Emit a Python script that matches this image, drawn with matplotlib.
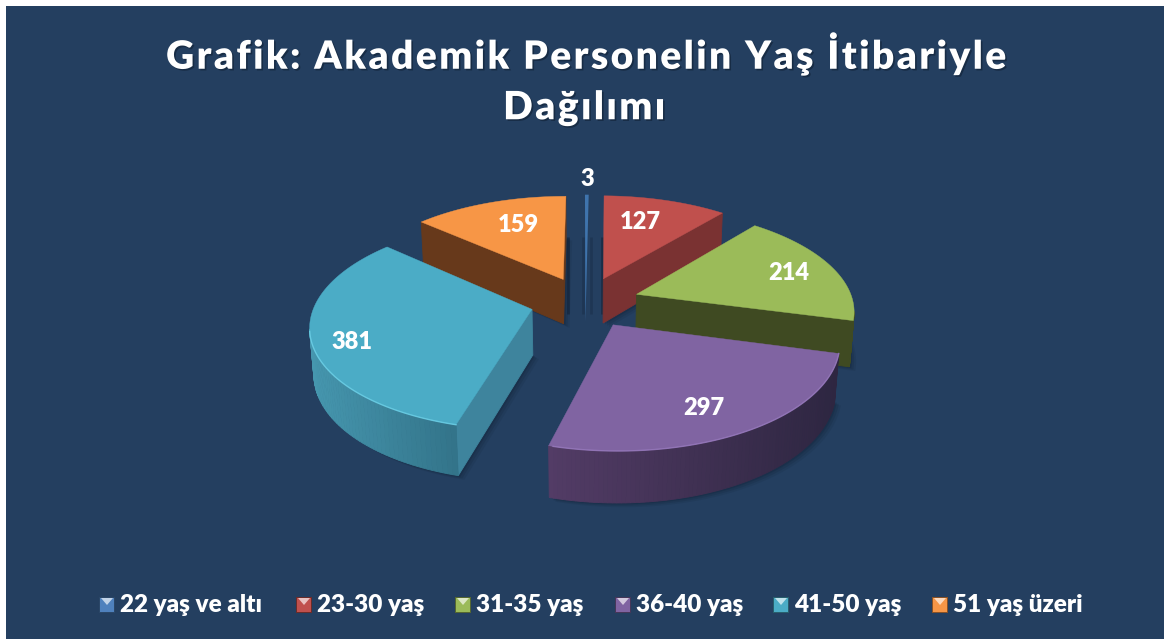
import numpy as np
import matplotlib
matplotlib.use("Agg")
import matplotlib.pyplot as plt
import matplotlib.colors as mcolors
import matplotlib.patheffects as pe

title_lines = ["Grafik: Akademik Personelin Yaş İtibariyle", "Dağılımı"]
categories = ["22 yaş ve altı", "23-30 yaş", "31-35 yaş", "36-40 yaş", "41-50 yaş", "51 yaş üzeri"]
values = [3, 127, 214, 297, 381, 159]
top_colors = ["#4f81bd", "#c0504d", "#9bbb59", "#8064a2", "#4bacc6", "#f79646"]
face_colors = ["#3f74ad", "#7a3232", "#3f4a22", "#4a3760", "#3e849d", "#67391b"]
# rim shading, left end to right end
rim_colors = {3: ("#533c66", "#2e2641"), 4: ("#4697af", "#33748a")}

BG = "#243f60"
plt.rcParams["font.family"] = ["Lato", "DejaVu Sans"]

# projection of the exploded pie, found by measuring the picture
CX, CY = 585, 302
FX, FY = 54.7, 25.5
PERSP = 0.036
PERSP_LOW = 0.015
DEPTH = 46
RADIUS = 3.96
label_fracs = [1.31, 0.72, 0.76, 0.70, 0.81, 0.70]
label_nudge = [(0, 6), (-9, 2), (4, 1), (2, 11), (-2, 8), (9, 1)]
legend_x = [99, 296, 455, 615, 773, 932]
shadow_strips = [(583, 0.22), (591, 0.22), (568, 0.45), (602, 0.45)]


def project(u, v, low=False):
    w = 1 + PERSP * v + (PERSP_LOW if low else 0)
    return CX + FX * u / w, CY + (-FY * v + (DEPTH if low else 0)) / w


def outline(start, end, n=90):
    # one wedge: apex, then rim from start to end (degrees clockwise from top)
    mid = np.radians((start + end) / 2)
    ou, ov = np.sin(mid), np.cos(mid)
    th = np.radians(np.linspace(start, end, n))
    u = np.r_[ou, ou + RADIUS * np.sin(th)]
    v = np.r_[ov, ov + RADIUS * np.cos(th)]
    return u, v


fig = plt.figure(figsize=(11.64, 6.39), dpi=100, facecolor="white")
ax = fig.add_axes([0, 0, 1, 1])
ax.set_xlim(0, 1164)
ax.set_ylim(639, 0)
ax.axis("off")
ax.add_patch(plt.Rectangle((6, 6), 1158, 633, color=BG, lw=0, zorder=0))

# dark streaks the wedges throw on the slide around the middle
for x, a in shadow_strips:
    ax.plot([x, x], [237, 314], color="#0c1a2c", lw=2, alpha=a, solid_capstyle="butt", zorder=0.5)

fracs = np.cumsum([0] + values) / sum(values) * 360
wedges = list(zip(fracs[:-1], fracs[1:]))

# back wedges first so the front ones cover them
order = [0, 1, 5, 2, 4, 3]
for z, i in enumerate(order):
    u, v = outline(*wedges[i])
    tx, ty = project(u, v)
    bx, by = project(u, v, low=True)

    if i == 0:
        # sliver is too thin for faces, it reads as one tapering strip
        ax.fill([tx[1] - 0.4, tx[-1] + 0.4, bx[0]], [ty[1], ty[-1], by[0]], color=face_colors[0],
                lw=0, zorder=z * 3 + 2)
        continue

    # soft shadow
    for off, a in [(6, 0.10), (4, 0.14), (2, 0.18)]:
        ax.fill(bx + off, by + off * 0.7, color="#0c1a2c", alpha=a, lw=0, zorder=z * 3 + 1)

    # side faces, only those turned to the viewer
    n = len(tx)
    for k in range(n):
        m = (k + 1) % n
        if tx[m] >= tx[k]:
            continue
        is_rim = k != 0 and k != n - 1
        col = face_colors[i]
        if is_rim and i in rim_colors:
            left, right = rim_colors[i]
            f = (tx[k] - tx[1:].min()) / (tx[1:].max() - tx[1:].min())
            if i == 3:
                f = (tx[k] - bx[-1]) / (tx[1] - bx[-1])
            f = np.clip(f, 0, 1)
            col = mcolors.to_hex((1 - f) * np.array(mcolors.to_rgb(left)) + f * np.array(mcolors.to_rgb(right)))
        ax.fill([tx[k], tx[m], bx[m], bx[k]], [ty[k], ty[m], by[m], by[k]],
                color=col, lw=0.6, zorder=z * 3 + 2)

    ax.fill(tx, ty, color=top_colors[i], lw=0.3, zorder=z * 3 + 3)

    # light edge on the front rim
    if i in rim_colors:
        keep = np.r_[False, tx[2:] < tx[1:-1], False]
        edge = "#6fd3ea" if i == 4 else "#9a7cc0"
        ax.plot(tx[keep], ty[keep], color=edge, lw=1, alpha=0.8, zorder=z * 3 + 3)

title_fx = [pe.SimplePatchShadow(offset=(1.2, -1.2), shadow_rgbFace="#0c1a2c", alpha=0.5), pe.Normal()]

# value labels
for i, (s, e) in enumerate(wedges):
    mid = np.radians((s + e) / 2)
    rho = 1 + RADIUS * label_fracs[i]
    lx, ly = project(rho * np.sin(mid), rho * np.cos(mid))
    ax.text(lx + label_nudge[i][0], ly + label_nudge[i][1], str(values[i]), color="white",
            fontsize=17, fontweight="heavy", ha="center", va="center", zorder=40)

# title is tracked out in the reference, hair spaces do that here
for line, y in zip(title_lines, [54, 108]):
    ax.text(584, y, "\u200a".join(line), color="white", fontsize=28, fontweight="heavy",
            ha="center", va="center", zorder=40, path_effects=title_fx)

# legend
for x0, name, col in zip(legend_x, categories, top_colors):
    rgb = np.array(mcolors.to_rgb(col))
    ax.add_patch(plt.Rectangle((x0, 597), 16, 16, color=mcolors.to_hex(rgb * 0.55), lw=0, zorder=30))
    ax.add_patch(plt.Rectangle((x0 + 1, 598), 13.5, 13.5, color=col, lw=0, zorder=31))
    ax.fill([x0 + 2, x0 + 14, x0 + 8], [598, 598, 605], color=mcolors.to_hex(rgb * 0.35 + 0.65), lw=0, zorder=32)
    ax.text(x0 + 21, 605, name, color="white", fontsize=17.5, fontweight="heavy", ha="left",
            va="center", zorder=40)

fig.savefig("out.png", dpi=100, facecolor="white")
